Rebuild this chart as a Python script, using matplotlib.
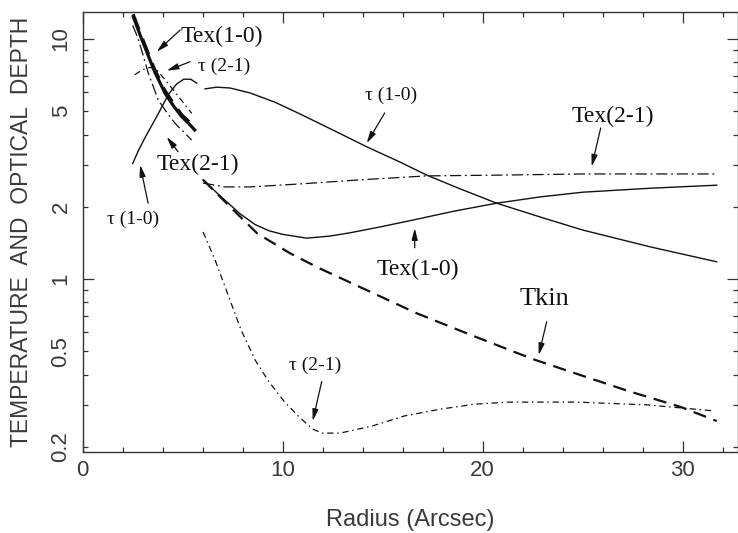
import matplotlib
matplotlib.use('Agg')
import matplotlib.pyplot as plt
from matplotlib.ticker import FixedLocator, FuncFormatter, NullFormatter

# radius in arcsec
# inner core model (r < 6")
r_tex10_in = [2.53, 2.85, 3.2, 3.6, 4.12, 4.55, 4.95, 5.3, 5.6]
tex10_in = [12.4, 10.5, 8.85, 7.3, 5.94, 5.25, 4.75, 4.45, 4.18]
tkin_in = [12.7, 10.8, 9.1, 7.5, 6.1, 5.4, 4.85, 4.55, 4.25]

r_tau10_in = [2.5, 2.8, 3.2, 3.7, 4.3, 4.7, 5.05, 5.4, 5.7]
tau10_in = [3.03, 3.45, 4.0, 4.75, 5.9, 6.5, 6.8, 6.8, 6.55]

r_tau21_in = [2.6, 3.0, 3.3, 3.6, 4.1, 4.8, 5.45]
tau21_in = [7.1, 7.45, 7.6, 7.6, 6.8, 5.75, 4.9]

r_tex21_in = [2.5, 2.78, 3.28, 3.78, 4.2, 4.62, 5.05, 5.45]
tex21_in = [11.4, 10.0, 7.2, 5.57, 4.95, 4.45, 4.1, 3.79]

# outer envelope model (r > 6")
r_tau10 = [6.12, 6.7, 7.37, 8.37, 9.6, 10.87, 12.5, 14.22, 15.87, 17.2, 18.9,
           20.7, 22.9, 25.0, 28.4, 31.7]
tau10 = [6.2, 6.3, 6.25, 5.96, 5.46, 4.87, 4.18, 3.55, 3.07, 2.71, 2.37,
         2.07, 1.81, 1.60, 1.36, 1.18]

r_tex21 = [6.02, 7.12, 8.37, 10.87, 13.87, 17.2, 20.9, 25.0, 31.7]
tex21 = [2.51, 2.42, 2.42, 2.49, 2.59, 2.69, 2.71, 2.74, 2.74]

r_tex10 = [6.02, 6.87, 7.87, 8.6, 9.3, 10.0, 11.2, 12.37, 13.4, 14.9, 16.5,
           18.6, 20.7, 22.9, 25.0, 28.4, 31.7]
tex10 = [2.59, 2.22, 1.87, 1.69, 1.59, 1.535, 1.48, 1.51, 1.56, 1.65, 1.76,
         1.92, 2.07, 2.20, 2.30, 2.39, 2.46]

r_tkin = [6.02, 7.37, 8.72, 10.37, 11.72, 14.4, 16.7, 19.4, 22.5, 25.0,
          27.3, 29.9, 31.7]
tkin = [2.59, 2.0, 1.55, 1.28, 1.12, 0.883, 0.72, 0.585, 0.464, 0.395,
        0.341, 0.293, 0.256]

r_tau21 = [6.02, 6.62, 7.27, 7.92, 8.62, 9.32, 10.1, 10.87, 11.5, 11.97,
           12.87, 14.47, 16.1, 17.9, 19.6, 21.3, 24.7, 28.2, 31.6]
tau21 = [1.57, 1.20, 0.858, 0.613, 0.46, 0.372, 0.307, 0.264, 0.237, 0.228,
         0.228, 0.244, 0.269, 0.287, 0.301, 0.307, 0.307, 0.299, 0.282]

xmajor = [0, 10, 20, 30]
ylabelled = [0.2, 0.5, 1, 2, 5, 10]

SOLID = '-'
TEX21_LS = (0, (9, 3, 1.5, 3))
TAU21_LS = (0, (5, 3, 1.2, 3))
TKIN_LS = (0, (6, 3.5))

fig = plt.figure(figsize=(7.38, 5.33), dpi=100)
ax = fig.add_axes([82.7 / 738, 1 - 452 / 533, (737.5 - 82.7) / 738, 440 / 533])

k = '#111111'
# inner region
ax.plot(r_tex10_in, tex10_in, color=k, lw=2.3, ls=SOLID)
ax.plot(r_tex10_in, tkin_in, color=k, lw=2.0, ls=TKIN_LS)
ax.plot(r_tau10_in, tau10_in, color=k, lw=1.0, ls=SOLID)
ax.plot(r_tau21_in, tau21_in, color=k, lw=0.9, ls=TAU21_LS)
ax.plot(r_tex21_in, tex21_in, color=k, lw=0.9, ls=TEX21_LS)
# outer region
ax.plot(r_tau10, tau10, color=k, lw=1.0, ls=SOLID)
ax.plot(r_tex21, tex21, color=k, lw=0.9, ls=TEX21_LS)
ax.plot(r_tex10, tex10, color=k, lw=1.0, ls=SOLID)
ax.plot(r_tkin, tkin, color=k, lw=1.6, ls=TKIN_LS)
ax.plot(r_tau21, tau21, color=k, lw=0.9, ls=TAU21_LS)

ax.set_yscale('log')
ax.set_xlim(0, (737.5 - 82.7) / 20)
ax.set_ylim(0.1902, 12.96)

# annotations: (text, text pos, arrow tail, arrow head, size)
serif = ['Liberation Serif', 'DejaVu Serif']
notes = [
    ('Tex(1-0)', (6.95, 10.29), (4.87, 10.9), (3.7, 8.85), 17),
    ('τ (2-1)', (7.07, 7.67), (5.37, 8.04), (4.2, 7.38), 14),
    ('Tex(2-1)', (5.74, 2.99), (4.77, 3.39), (4.2, 3.91), 17),
    ('τ (1-0)', (2.5, 1.78), (3.27, 2.07), (2.87, 2.99), 14),
    ('τ (1-0)', (15.4, 5.82), (15.1, 4.92), (14.2, 3.68), 14),
    ('Tex(2-1)', (26.5, 4.78), (25.9, 4.26), (25.45, 2.94), 17),
    ('Tex(1-0)', (16.74, 1.10), (16.6, 1.35), (16.6, 1.63), 17),
    ('Tkin', (23.1, 0.825), (23.2, 0.664), (22.8, 0.482), 19),
    ('τ (2-1)', (11.6, 0.438), (11.95, 0.374), (11.5, 0.256), 14),
]
for txt, pos, tail, head, size in notes:
    ax.text(pos[0], pos[1], txt, family=serif, fontsize=size, ha='center', va='center', color=k)
    ax.annotate('', xy=head, xytext=tail,
                arrowprops=dict(arrowstyle='-|>,head_length=0.7,head_width=0.18',
                                lw=0.9, color=k, shrinkA=0, shrinkB=0))

# axes styling
sans = ['Liberation Sans', 'DejaVu Sans']
tcol = '#3a3a3a'
for s in ax.spines.values():
    s.set_linewidth(1.0)
    s.set_color('#333333')

ax.xaxis.set_major_locator(FixedLocator(xmajor))
ax.xaxis.set_minor_locator(FixedLocator(range(0, 34, 2)))
ax.yaxis.set_major_locator(FixedLocator([1, 10]))
ax.yaxis.set_minor_locator(FixedLocator([m * d for d in (0.1, 1) for m in range(2, 10)]))
ax.yaxis.set_major_formatter(FuncFormatter(lambda v, p: f'{v:g}'))
ax.yaxis.set_minor_formatter(FuncFormatter(lambda v, p: f'{v:g}' if round(v, 3) in ylabelled else ''))
ax.xaxis.set_minor_formatter(NullFormatter())

ax.tick_params(which='both', direction='in', top=True, right=True, colors='#333333')
ax.tick_params(which='major', length=8, width=0.9)
ax.tick_params(which='minor', length=3.8, width=0.9)
ax.tick_params(axis='x', which='both', pad=6)
ax.tick_params(axis='y', which='both', pad=8)
for lab in ax.get_xticklabels() + ax.get_yticklabels() + ax.get_yticklabels(minor=True):
    lab.set_family(sans)
    lab.set_fontsize(16)
    lab.set_color(tcol)
for lab in ax.get_yticklabels() + ax.get_yticklabels(minor=True):
    lab.set_rotation(90)
    lab.set_va('center')

ax.set_xlabel('Radius (Arcsec)', family=sans, fontsize=17, color=tcol, va='center')
ax.xaxis.set_label_coords(0.5, (452 - 520) / 440)
ax.set_ylabel('TEMPERATURE  AND  OPTICAL  DEPTH', family=sans, fontsize=16.5, color=tcol, va='center')
ax.yaxis.set_label_coords((22 - 82.7) / 654.8, 0.5)

fig.savefig('out.png', dpi=100)
